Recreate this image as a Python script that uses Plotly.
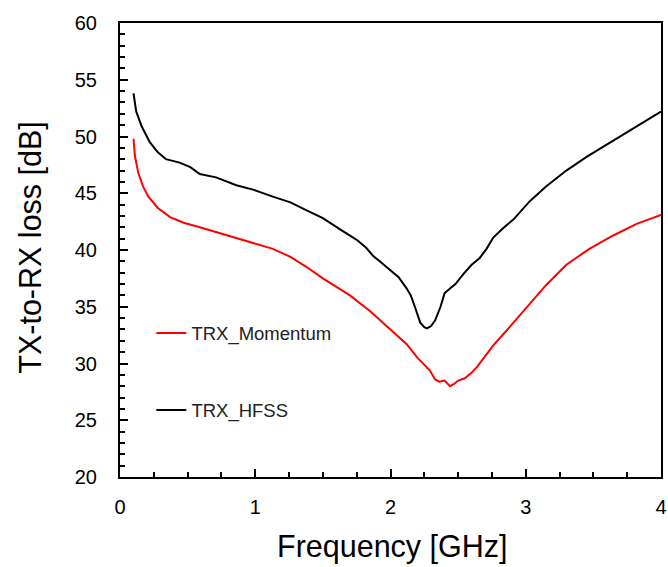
import plotly.graph_objects as go

# HFSS (black)
freq_hfss = [0.1, 0.12, 0.16, 0.22, 0.28, 0.34, 0.44, 0.52, 0.59, 0.71, 0.86, 0.99, 1.13, 1.26,
             1.38, 1.50, 1.63, 1.75, 1.82, 1.87, 1.92, 2.00, 2.06, 2.12, 2.15, 2.18, 2.22, 2.25,
             2.27, 2.30, 2.33, 2.37, 2.40, 2.44, 2.48, 2.54, 2.60, 2.66, 2.71, 2.76, 2.83, 2.91,
             3.03, 3.15, 3.30, 3.45, 3.65, 3.82, 4.0]
loss_hfss = [53.8, 52.2, 50.9, 49.5, 48.6, 48.0, 47.7, 47.3, 46.7, 46.4, 45.7, 45.3, 44.7, 44.2,
             43.5, 42.8, 41.8, 40.9, 40.2, 39.5, 39.0, 38.2, 37.6, 36.6, 36.0, 35.0, 33.6, 33.2,
             33.1, 33.3, 33.8, 35.0, 36.2, 36.6, 37.0, 37.9, 38.7, 39.3, 40.1, 41.1, 41.9, 42.7,
             44.3, 45.6, 47.0, 48.2, 49.7, 50.9, 52.2]

# Momentum (red)
freq_mom = [0.1, 0.11, 0.135, 0.17, 0.21, 0.28, 0.37, 0.47, 0.59, 0.79, 0.96, 1.13, 1.26, 1.38,
            1.50, 1.70, 1.85, 2.00, 2.12, 2.20, 2.25, 2.29, 2.33, 2.36, 2.40, 2.44, 2.47, 2.50,
            2.55, 2.60, 2.64, 2.70, 2.76, 2.88, 2.98, 3.03, 3.15, 3.30, 3.47, 3.65, 3.82, 4.0]
loss_mom = [49.8, 48.3, 46.8, 45.6, 44.7, 43.7, 42.9, 42.4, 42.0, 41.3, 40.7, 40.1, 39.4, 38.5,
            37.5, 36.0, 34.6, 33.0, 31.7, 30.5, 29.9, 29.4, 28.6, 28.4, 28.5, 28.0, 28.2, 28.5,
            28.7, 29.2, 29.7, 30.6, 31.6, 33.2, 34.6, 35.2, 36.9, 38.7, 40.1, 41.3, 42.3, 43.1]

x_ticks = [0, 1, 2, 3, 4]
y_ticks = [20, 25, 30, 35, 40, 45, 50, 55, 60]
x_title = "Frequency [GHz]"
y_title = "TX-to-RX loss [dB]"

FONT = "Liberation Sans, Arial, sans-serif"

fig = go.Figure()
fig.add_trace(go.Scatter(x=freq_mom, y=loss_mom, mode="lines", name="TRX_Momentum",
                         legendgroup="a", line=dict(color="#ff0000", width=2)))
fig.add_trace(go.Scatter(x=freq_hfss, y=loss_hfss, mode="lines", name="TRX_HFSS",
                         legendgroup="b", line=dict(color="#000000", width=2)))

fig.update_layout(
    width=668, height=567,
    margin=dict(l=120, r=7, t=23, b=90, autoexpand=False),
    paper_bgcolor="white", plot_bgcolor="white",
    font=dict(family=FONT, color="black"),
    legend=dict(x=0.058, y=0.358, xanchor="left", yanchor="top",
                font=dict(size=18.5, family=FONT, color="#222222"),
                tracegroupgap=50, bgcolor="rgba(0,0,0,0)"),
    xaxis=dict(range=[0, 4], tickvals=x_ticks, ticks="inside", ticklen=8, tickwidth=2,
               tickcolor="black", showline=True, linecolor="black", linewidth=2, mirror=True,
               showgrid=False, zeroline=False, tickfont=dict(size=20),
               ticklabelstandoff=11,
               minor=dict(dtick=0.25, ticks="inside", ticklen=5, tickwidth=2, tickcolor="black")),
    yaxis=dict(range=[20, 60], tickvals=y_ticks, ticks="inside", ticklen=8, tickwidth=2,
               tickcolor="black", showline=True, linecolor="black", linewidth=2, mirror=True,
               showgrid=False, zeroline=False, tickfont=dict(size=20),
               ticklabelstandoff=17,
               minor=dict(dtick=1, ticks="inside", ticklen=5, tickwidth=2, tickcolor="black")),
    annotations=[
        dict(text=x_title, xref="paper", yref="paper", x=0.504, y=-0.152,
             xanchor="center", yanchor="middle", showarrow=False, font=dict(size=30.5)),
        dict(text=y_title, xref="paper", yref="paper", x=-0.166, y=0.5055, textangle=-90,
             xanchor="center", yanchor="middle", showarrow=False, font=dict(size=30.5)),
    ],
)

fig.write_html("out.html", config={"displayModeBar": False},
               post_script="document.body.style.margin='0';")
